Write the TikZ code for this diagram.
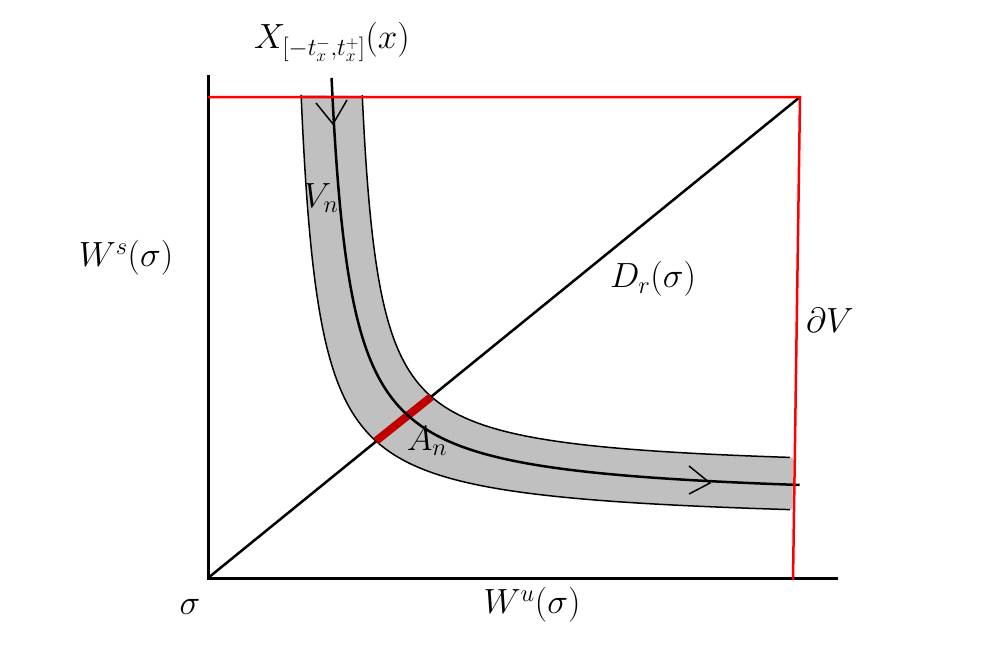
\RequirePackage{fix-cm}
\documentclass[tikz,border=0pt]{standalone}
\definecolor{bandgray}{HTML}{C0C0C0}
\definecolor{segred}{HTML}{C00000}
\definecolor{bdred}{HTML}{FF0000}
\begin{document}
\begin{tikzpicture}[x=1pt,y=-1pt,
  lbl/.style={font=\fontsize{35}{42}\selectfont, inner sep=0pt},
  axisline/.style={line width=3pt, black},
  outline/.style={line width=1.5pt, black},
  orbit/.style={line width=2.5pt, black},
  border/.style={line width=2.5pt, bdred},
  chev/.style={line width=1.5pt, black, line join=miter}]
\useasboundingbox (0,0) rectangle (981,653);
% band (hyperbolic tube)
\fill[bandgray] plot[domain=-1.583:1.754, samples=120] ({283+88.32*exp(\x)},{525-88.32*exp(-\x)})
  -- plot[domain=-1.715:1.5425, samples=120] ({345+80.62*exp(-\x)},{472-80.62*exp(\x)}) -- cycle;
\draw[outline] plot[domain=-1.583:1.748, samples=120] ({283+88.32*exp(\x)},{525-88.32*exp(-\x)});
\draw[outline] plot[domain=-1.5425:1.708, samples=120] ({345+80.62*exp(\x)},{472-80.62*exp(-\x)});
% axes
\coordinate (O) at (208,578);
\coordinate (ytop) at (208,75);
\coordinate (xend) at (838,578);
\coordinate (corner) at (800,97);
\coordinate (rbot) at (793,580);
\draw[axisline] (ytop) -- (O) -- (xend);
\draw[line width=2.5pt] (O) -- (corner);
% red segment A_n
\draw[line width=8pt, segred] (376,441) -- (431,397);
% orbit
\draw[orbit] plot[domain=-1.538:1.678, samples=120] ({312+91.1*exp(\x)},{502-91.1*exp(-\x)});
\draw[chev] (316,103) -- (333,124) -- (347,100);
\draw[chev] (689,466) -- (710,483) -- (689,494);
% boundary
\draw[border] (208,97) -- (corner) -- (rbot);
% labels
\node[lbl] (xlab) at (332,42) {$X_{[-t_x^-,t_x^+]}(x)$};
\node[lbl] (ws) at (126,258) {$W^s(\sigma)$};
\node[lbl] (vn) at (321,198) {$V_n$};
\node[lbl] (an) at (427,441) {$A_n$};
\node[lbl] (dr) at (653,279) {$D_r(\sigma)$};
\node[lbl] (dv) at (830,320) {$\partial V$};
\node[lbl] (sig) at (190,607) {$\sigma$};
\node[lbl] (wu) at (532,605) {$W^u(\sigma)$};
\end{tikzpicture}
\end{document}
